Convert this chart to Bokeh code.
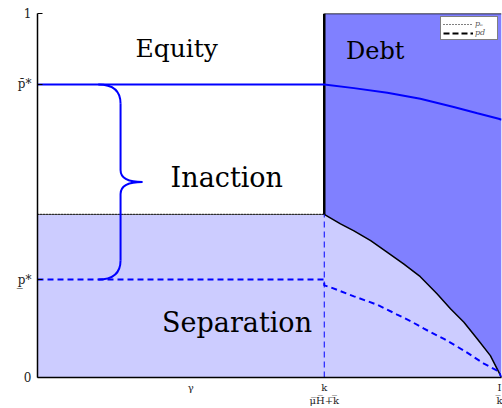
from bokeh.plotting import figure
from bokeh.models import FixedTicker, Range1d, Legend, LegendItem
from bokeh.core.properties import value
from bokeh.embed import file_html
from bokeh.resources import INLINE

# positions on the gamma axis
x_cut = 0.618      # k / (mu_H + k)
x_end = 1.0        # I / k
gamma_tick = 0.33

# price levels
p_top = 1.0
p_bar = 0.805      # upper threshold
p_mid = 0.448      # equity / separation border
p_low = 0.269      # lower threshold

# border between the separation and debt regions
bound_x = [0.618, 0.653, 0.682, 0.718, 0.754, 0.789, 0.825, 0.861, 0.890, 0.919, 0.948, 0.976, 1.0]
bound_y = [0.448, 0.422, 0.403, 0.376, 0.344, 0.312, 0.277, 0.230, 0.189, 0.152, 0.106, 0.060, 0.0]

# upper price schedule
high_x = [0.0, 0.618, 0.682, 0.754, 0.825, 0.897, 0.948, 0.994, 1.0]
high_y = [0.805, 0.805, 0.795, 0.782, 0.766, 0.743, 0.726, 0.711, 0.708]

# lower price schedule
low_x = [0.0, 0.618, 0.618, 0.631, 0.682, 0.732, 0.775, 0.804, 0.833, 0.876, 0.919, 0.962, 0.994, 1.0]
low_y = [0.269, 0.269, 0.253, 0.248, 0.223, 0.200, 0.173, 0.155, 0.134, 0.106, 0.074, 0.038, 0.017, 0.0]

# region names
region_names = ["Equity", "Debt", "Inaction", "Separation"]

SERIF = "DejaVu Serif"
BLUE = "#0000ff"
LIGHT = "#ccccff"
DARK = "#8080ff"

p = figure(width=502, height=408, x_range=Range1d(0, x_end), y_range=Range1d(0, p_top),
           output_backend="svg", toolbar_location=None,
           min_border_left=37, min_border_right=1, min_border_top=13, min_border_bottom=31)
p.grid.visible = False
p.outline_line_color = None
p.background_fill_color = "white"

# shaded regions
light_xs = [0, 0, x_cut] + bound_x[1:]
light_ys = [0, p_mid, p_mid] + bound_y[1:]
p.patch(light_xs, light_ys, fill_color=LIGHT, line_color=None)

dark_xs = bound_x + [x_end, x_cut]
dark_ys = bound_y + [p_top, p_top]
p.patch(dark_xs, dark_ys, fill_color=DARK, line_color=None)

# region borders
p.line([0, x_cut], [p_mid, p_mid], line_color="#555555", line_width=1)
p.line([0, x_cut], [p_mid, p_mid], line_color="black", line_width=1.3, line_dash="1 2")
p.line([x_cut, x_cut], [p_mid, p_top], line_color="black", line_width=2.5)
p.line([x_cut, x_end], [p_top, p_top], line_color="black", line_width=1.5)
p.line(bound_x, bound_y, line_color="black", line_width=1.5)
p.line([x_cut, x_cut], [0, p_mid], line_color=BLUE, line_width=1, line_dash="6 4")

# price schedules
p.line(high_x, high_y, line_color=BLUE, line_width=2)
p.line(low_x, low_y, line_color=BLUE, line_width=2, line_dash="6 4")

# legend keys (kept above the visible range)
key_e = p.line([0, 1], [2, 2], line_color="black", line_width=1, line_dash="1 2")
key_d = p.line([0, 1], [2, 2], line_color="black", line_width=2, line_dash="6 3")

# curly brace spanning the inaction band
bx0, bx1, bxt = 0.131, 0.179, 0.226
ry, rt = 0.053, 0.033
bm = (p_bar + p_low) / 2
brace = dict(line_color=BLUE, line_width=2)
p.quadratic(x0=[bx0], y0=[p_bar], x1=[bx1], y1=[p_bar - ry], cx=[bx1], cy=[p_bar], **brace)
p.line([bx1, bx1], [p_bar - ry, bm + rt], **brace)
p.quadratic(x0=[bx1], y0=[bm + rt], x1=[bxt], y1=[bm], cx=[bx1], cy=[bm], **brace)
p.quadratic(x0=[bxt], y0=[bm], x1=[bx1], y1=[bm - rt], cx=[bx1], cy=[bm], **brace)
p.line([bx1, bx1], [bm - rt, p_low + ry], **brace)
p.quadratic(x0=[bx1], y0=[p_low + ry], x1=[bx0], y1=[p_low], cx=[bx1], cy=[p_low], **brace)

# region labels
label_x = [0.300, 0.728, 0.408, 0.430]
label_y = [0.904, 0.898, 0.549, 0.151]
label_size = ["25px", "24px", "27px", "27px"]
for name, lx, ly, sz in zip(region_names, label_x, label_y, label_size):
    p.text(x=[lx], y=[ly], text=[name], text_font=value(SERIF), text_font_size=sz,
           text_align="center", text_baseline="middle", text_color="black")

# axes
p.yaxis.ticker = FixedTicker(ticks=[0, p_low, p_bar, p_top])
p.yaxis.major_label_overrides = {0: "0", p_low: "p̲*", p_bar: "p̄*", p_top: "1"}
p.xaxis.ticker = FixedTicker(ticks=[gamma_tick, x_cut, x_end])
p.xaxis.major_label_overrides = {gamma_tick: "γ", x_cut: "k\nμ̅H̅+̅k̅", x_end: "I\nk̅"}
for ax in (p.xaxis[0], p.yaxis[0]):
    ax.axis_line_color = "black"
    ax.axis_line_width = 1.5
    ax.minor_tick_line_color = None
    ax.major_label_text_font = SERIF
    ax.major_label_text_color = "#222222"
p.yaxis.major_tick_in = 5
p.yaxis.major_tick_out = 0
p.yaxis.major_label_text_font_size = "12px"
p.yaxis.major_label_standoff = 6
p.xaxis.major_tick_in = 0
p.xaxis.major_tick_out = 0
p.xaxis.major_label_text_font_size = "10px"
p.xaxis.major_label_standoff = 4

legend = Legend(items=[LegendItem(label="pₑ", renderers=[key_e]),
                       LegendItem(label="pd", renderers=[key_d])],
                location="top_right", margin=3, padding=2, spacing=0,
                label_height=8, glyph_height=8, glyph_width=30, label_standoff=2,
                label_text_font=SERIF, label_text_font_size="8px",
                label_text_font_style="italic", label_text_color="#555555",
                border_line_color="black", border_line_width=1,
                background_fill_color="white", background_fill_alpha=1)
p.add_layout(legend)

open("out.html", "w").write(file_html(p, INLINE))
